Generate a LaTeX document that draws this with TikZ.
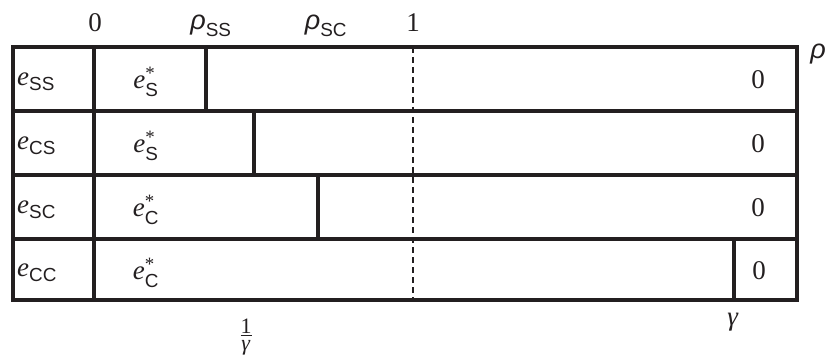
\documentclass[tikz,border=0pt]{standalone}
\usepackage{amsmath}
\usepackage{fontspec}
\setmainfont{Liberation Serif}
\setsansfont{Liberation Sans}
\definecolor{ink}{HTML}{231F20}
\newcommand\esub[1]{$\textit{e}_{\textsf{#1}}$}
\newcommand\estar[1]{$\textit{e}^{\text{*}}_{\textsf{#1}}$}
\newcommand\rhosub[1]{$\textsf{\itshape ρ}_{\textsf{#1}}$}
\newcommand\myfrac[2]{\vbox{\halign{\hfil##\hfil\cr #1\cr\noalign{\kern2pt\hrule height 1pt\kern4pt}#2\cr}}}
\begin{document}
\begin{tikzpicture}[x=1pt,y=-1pt,
  every node/.style={inner sep=0pt,font=\fontsize{27}{32}\selectfont,text=ink},
  frame/.style={draw=ink,line width=3.2pt},
  divider/.style={draw=ink,line width=3.2pt},
  guide/.style={draw=ink,line width=1.1pt,dash pattern=on 6pt off 4pt}]
\useasboundingbox (0,0) rectangle (829,358);
% rows
\draw[frame] (13,47) rectangle (797,300);
\foreach \y in {111,175,239} \draw[frame] (13,\y) -- (797,\y);
\draw[divider] (94,47) -- (94,300);
% threshold dividers
\draw[divider] (206,47) -- (206,111);
\draw[divider] (254,111) -- (254,175);
\draw[divider] (318,175) -- (318,239);
\draw[divider] (734,239) -- (734,300);
% dashed line at 1
\draw[guide] (413,47) -- (413,300);
% top labels
\node (t0) at (95,23) {0};
\node (tss) at (211,26) {\rhosub{SS}};
\node (tsc) at (326,26) {\rhosub{SC}};
\node (t1) at (413,23) {1};
\node (rho) at (818,54) {\textsf{\itshape ρ}};
% left column
\node[anchor=west] (e1) at (17,82) {\esub{SS}};
\node[anchor=west] (e2) at (17,146) {\esub{CS}};
\node[anchor=west] (e3) at (17,210) {\esub{SC}};
\node[anchor=west] (e4) at (17,273) {\esub{CC}};
% equilibrium labels
\node (s1) at (146,82) {\estar{S}};
\node (s2) at (146,146) {\estar{S}};
\node (s3) at (146,210) {\estar{C}};
\node (s4) at (146,273) {\estar{C}};
% zeros
\node (z1) at (758,80) {0};
\node (z2) at (758,144) {0};
\node (z3) at (758,208) {0};
\node (z4) at (759,271) {0};
% bottom labels
\node[font=\fontsize{22}{24}\selectfont] (ig) at (246,337) {\myfrac{1}{\textit{γ}}};
\node (g) at (733,322) {\textit{γ}};
\end{tikzpicture}
\end{document}
